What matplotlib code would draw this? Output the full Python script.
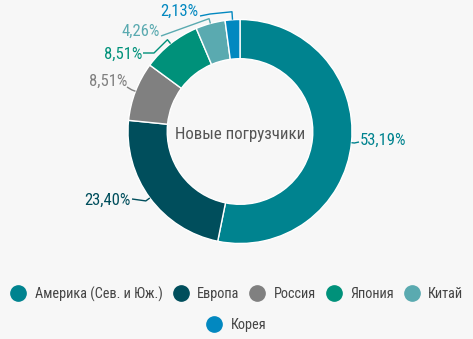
import matplotlib
matplotlib.use("Agg")
import matplotlib.pyplot as plt
import numpy as np
from matplotlib.lines import Line2D

categories = ["Америка (Сев. и Юж.)", "Европа", "Россия", "Япония", "Китай", "Корея"]
values = [53.19, 23.40, 8.51, 8.51, 4.26, 2.13]
labels = ["53,19%", "23,40%", "8,51%", "8,51%", "4,26%", "2,13%"]
colors = ["#00838f", "#004e5c", "#808080", "#00917a", "#5aaab0", "#0288c0"]
title = "Новые погрузчики"

FONT = ["Roboto Condensed", "Open Sans Condensed", "Liberation Sans Narrow",
        "DejaVu Sans Condensed", "Roboto", "DejaVu Sans"]
plt.rcParams["font.family"] = FONT

W, H = 473, 339
CX, CY, R = 240, 131.5, 112
BG = "#f7f7f7"

fig = plt.figure(figsize=(W / 100, H / 100), dpi=100, facecolor=BG)
ax = fig.add_axes([0, 0, 1, 1])
ax.set_facecolor(BG)

def P(x, y):
    return ((x - CX) / R, (CY - y) / R)

wedges, _ = ax.pie(values, colors=colors, startangle=90, counterclock=False,
                   radius=1.0, wedgeprops=dict(width=0.35, edgecolor="white", linewidth=1))
ax.set_aspect("auto")
ax.set_xlim(-CX / R, (W - CX) / R)
ax.set_ylim(-(H - CY) / R, CY / R)
ax.axis("off")

ax.text(0, P(0, 134)[1], title, ha="center", va="center", fontsize=12.2, color="#555555")

# label layout (pixels): text position, alignment, extra line points
layout = [
    dict(tx=360, ty=140, ha="left", pts=[(359, 142)], el=3),
    dict(tx=131, ty=200, ha="right", pts=[(132, 199)], el=5),
    dict(tx=127, ty=81, ha="right", pts=[(127, 87)], el=4),
    dict(tx=142, ty=54, ha="right", pts=[(154, 53), (143, 53)], el=5),
    dict(tx=160, ty=31, ha="right", pts=[(161, 36)], el=5),
    dict(tx=198, ty=11, ha="right", pts=[(210, 14), (200, 16)], el=8),
]

total = sum(values)
cum = 0
for v, lab, c, L in zip(values, labels, colors, layout):
    mid = cum + v / 2
    cum += v
    ang = np.deg2rad(90 - 360 * mid / total)
    ex, ey = np.cos(ang), np.sin(ang)
    e = L["el"] / R
    xs = [ex, ex * (1 + e)]
    ys = [ey, ey * (1 + e)]
    for (px, py) in L["pts"]:
        dx, dy = P(px, py)
        xs.append(dx)
        ys.append(dy)
    ax.plot(xs, ys, color=c, lw=1, solid_capstyle="butt")
    tx, ty = P(L["tx"], L["ty"])
    ax.text(tx, ty, lab, ha=L["ha"], va="center", fontsize=12, color=c)

def handle(c):
    return Line2D([], [], marker="o", linestyle="none", markersize=11,
                  markerfacecolor=c, markeredgecolor=c)

leg_kw = dict(frameon=False, fontsize=10.3, labelcolor="#444444",
              handletextpad=0.55, columnspacing=0.65, handlelength=1.2, borderaxespad=0)
fig.legend([handle(c) for c in colors[:5]], categories[:5], ncol=5,
           loc="center", bbox_to_anchor=(236.5 / W, 1 - 294 / H), **leg_kw)
fig.legend([handle(colors[5])], categories[5:], ncol=1,
           loc="center", bbox_to_anchor=(236 / W, 1 - 325 / H), **leg_kw)

fig.savefig("out.png", dpi=100, facecolor=BG)
